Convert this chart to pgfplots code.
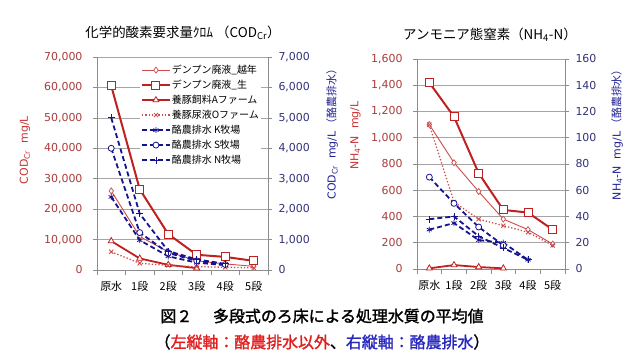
\documentclass[border=0pt]{standalone}
\usepackage{fontspec}
\setmainfont{DejaVu Sans}
\newfontfamily\jp{Noto Sans CJK JP}
\newfontfamily\jpb{Noto Sans CJK JP}[FakeBold=1.6]
\usepackage{pgfplots}
\pgfplotsset{compat=1.18}
\definecolor{redA}{RGB}{192,32,32}
\definecolor{redT}{RGB}{205,75,75}
\definecolor{navy}{RGB}{20,20,145}
\definecolor{axgray}{RGB}{140,140,140}
\definecolor{grgray}{RGB}{165,165,165}
\definecolor{tlred}{RGB}{170,60,60}
\definecolor{tlblue}{RGB}{50,50,120}
\definecolor{labred}{RGB}{200,50,50}
\definecolor{labblue}{RGB}{35,35,150}
\definecolor{capred}{RGB}{225,30,30}
\definecolor{capblue}{RGB}{40,40,190}
\pgfplotsset{
  base/.style={scale only axis, xmin=-0.5, xmax=5.5,
    axis line style={-, draw=axgray, line width=0.7bp},
    tick style={draw=axgray, line width=0.6bp},
    major tick length=4bp, minor tick length=5bp, tick align=outside,
    scaled y ticks=false,
    /pgf/number format/.cd, 1000 sep={,}, assume math mode=true, /pgfplots/.cd,
    yticklabel style={font=\fontsize{11}{13}\selectfont},
    xticklabel style={font=\jp\fontsize{11}{13}\selectfont, text=black, yshift=-4bp},
    ylabel style={font=\fontsize{11}{13}\selectfont, anchor=center},
    legend image code/.code={\draw[mark repeat=2,mark phase=2] plot coordinates {(0bp,0bp)(14bp,0bp)(28bp,0bp)};},
  },
  leftax/.style={base, axis x line*=bottom, axis y line*=left,
    ymajorgrids, grid style={draw=grgray, line width=0.6bp},
    xtick={0,...,5}, xticklabels={原水,1段,2段,3段,4段,5段},
    major x tick style={draw=none},
    minor xtick={-0.5,0.5,...,5.5},
    yticklabel style={text=tlred, xshift=-7bp}},
  rightax/.style={base, axis y line*=right, axis x line=none,
    yticklabel style={text=tlblue, xshift=3bp}},
  sNen/.style={color=redT, line width=0.9bp, mark=diamond*, mark size=3bp, mark options={solid, fill=white, line width=0.7bp}},
  sNama/.style={color=redA, line width=2bp, mark=square*, mark size=4bp, mark options={solid, fill=white, line width=1bp}},
  sA/.style={color=redA, line width=1.8bp, mark=triangle*, mark size=3.5bp, mark options={solid, fill=white, line width=0.8bp}},
  sO/.style={color=redT, line width=1.3bp, dotted, mark=x, mark size=3bp, mark options={solid, line width=0.8bp}},
  sK/.style={color=navy, line width=1.8bp, dash pattern=on 5bp off 3bp, mark=asterisk, mark size=3bp, mark options={solid, line width=0.8bp}},
  sS/.style={color=navy, line width=1.8bp, dash pattern=on 5bp off 3bp, mark=*, mark size=3bp, mark options={solid, fill=white, draw=navy, line width=0.8bp}},
  sN/.style={color=navy, line width=1.8bp, dash pattern=on 5bp off 3bp, mark=+, mark size=3.5bp, mark options={solid, line width=0.9bp}},
}
\begin{document}
\begin{tikzpicture}
\path[use as bounding box] (0,0) rectangle (640bp,361bp);
% ---------------- left chart ----------------
\begin{axis}[leftax, at={(97bp,91bp)}, anchor=south west, width=171bp, height=213bp,
  ymin=0, ymax=70000, ytick={0,10000,...,70000},
  ylabel={\color{labred}COD\textsubscript{Cr}\ \ mg/L},
  ylabel style={at={(axis description cs:-0.421,0.563)}}]
\addplot[sNen] coordinates {(0,26000)(1,11000)(2,6000)(3,3000)(4,2000)(5,1200)};
\addplot[sNama] coordinates {(0,60500)(1,26500)(2,11800)(3,5000)(4,4300)(5,3000)};
\addplot[sA] coordinates {(0,9500)(1,3800)(2,1700)(3,600)};
\addplot[sO] coordinates {(0,6000)(1,2200)(2,1500)(3,1100)(4,900)(5,700)};
\end{axis}
\begin{axis}[rightax, at={(97bp,91bp)}, anchor=south west, width=171bp, height=213bp,
  ymin=0, ymax=7000, ytick={0,1000,...,7000},
  ylabel={\color{labblue}COD\textsubscript{Cr}\ \ mg/L\,{\jp（酪農排水）}},
  ylabel style={at={(axis description cs:1.375,0.65)}},
  legend style={at={(0.25,0.977)}, anchor=north west, draw=none, fill=white,
    font=\jp\fontsize{10}{12}\selectfont, cells={anchor=west}, row sep=1bp, inner sep=1bp,
    nodes={inner sep=1bp, text height=9bp, text depth=3bp}}]
\addlegendimage{sNen}\addlegendentry{デンプン廃液\_越年}
\addlegendimage{sNama}\addlegendentry{デンプン廃液\_生}
\addlegendimage{sA}\addlegendentry{養豚飼料Aファーム}
\addlegendimage{sO}\addlegendentry{養豚尿液Oファーム}
\addplot[sK] coordinates {(0,2400)(1,980)(2,450)(3,240)(4,160)};
\addlegendentry{酪農排水 K牧場}
\addplot[sS] coordinates {(0,4000)(1,1230)(2,560)(3,300)(4,180)};
\addlegendentry{酪農排水 S牧場}
\addplot[sN] coordinates {(0,5000)(1,1850)(2,620)(3,350)(4,200)};
\addlegendentry{酪農排水 N牧場}
\end{axis}
% ---------------- right chart ----------------
\begin{axis}[leftax, at={(417bp,92bp)}, anchor=south west, width=148bp, height=210bp,
  ymin=0, ymax=1600, ytick={0,200,...,1600},
  ylabel={\color{labred}NH\textsubscript{4}-N\ \ mg/L},
  ylabel style={at={(axis description cs:-0.415,0.635)}}]
\addplot[sNen] coordinates {(0,1100)(1,810)(2,590)(3,380)(4,300)(5,190)};
\addplot[sNama] coordinates {(0,1420)(1,1160)(2,730)(3,450)(4,430)(5,300)};
\addplot[sA] coordinates {(0,5)(1,30)(2,15)(3,5)};
\addplot[sO] coordinates {(0,1100)(1,510)(2,380)(3,330)(4,280)(5,180)};
\end{axis}
\begin{axis}[rightax, at={(417bp,92bp)}, anchor=south west, width=148bp, height=210bp,
  ymin=0, ymax=160, ytick={0,20,...,160},
  ylabel={\color{labblue}NH\textsubscript{4}-N\ \ mg/L\,{\jp（酪農排水）}},
  ylabel style={at={(axis description cs:1.351,0.652)}}]
\addplot[sK] coordinates {(0,30)(1,35)(2,22)(3,20)(4,7)};
\addplot[sS] coordinates {(0,70)(1,50)(2,32)(3,18)};
\addplot[sN] coordinates {(0,38)(1,40)(2,25)(3,16)(4,7)};
\end{axis}
% ---------------- titles ----------------
\node[font=\jp\fontsize{13.5}{15}\selectfont] at (183bp,328bp) {化学的酸素要求量ｸﾛﾑ （COD\textsubscript{Cr}）};
\node[font=\jp\fontsize{13.5}{15}\selectfont] at (490bp,326bp) {アンモニア態窒素（NH\textsubscript{4}-N）};
\node[font=\jpb\fontsize{16}{18}\selectfont] at (322bp,45bp) {図２\hspace{1.3em}多段式のろ床による処理水質の平均値};
\node[font=\jpb\fontsize{16}{18}\selectfont] at (322bp,19bp) {（\textcolor{capred}{左縦軸：酪農排水以外}、\textcolor{capblue}{右縦軸：酪農排水}）};
\end{tikzpicture}
\end{document}
